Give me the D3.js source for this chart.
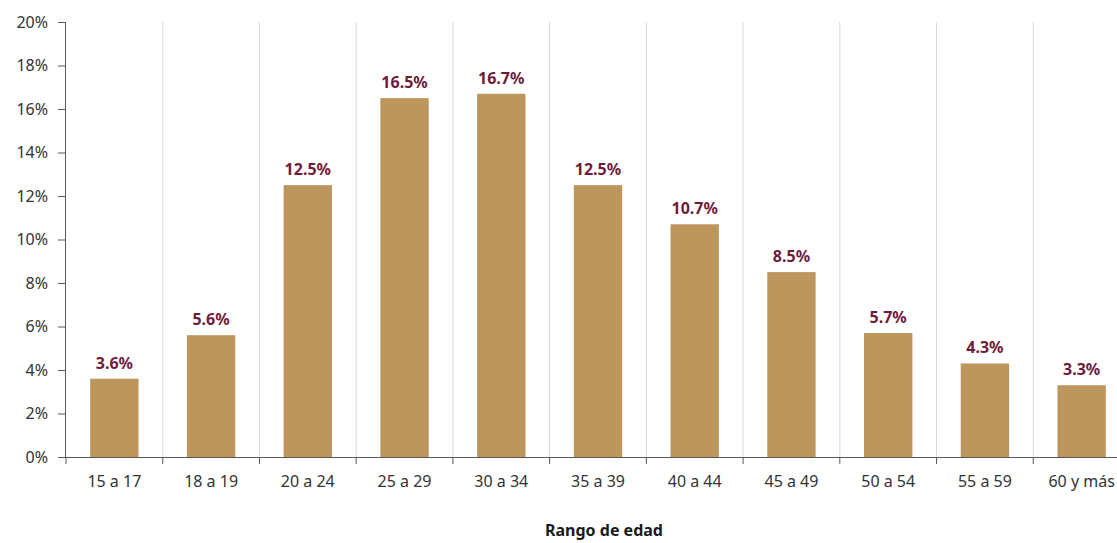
<!DOCTYPE html>
<meta charset="utf-8">
<head>
  <title>Rango de edad</title>
</head>
<style>
  body { margin: 0; background: #fff; }
  text { font-family: "Noto Sans", "Open Sans", sans-serif; }
</style>
<body>
<svg id="chart" width="1117" height="543"></svg>
<script src="https://d3js.org/d3.v7.min.js"></script>
<script>

// data
var categories = ["15 a 17", "18 a 19", "20 a 24", "25 a 29", "30 a 34", "35 a 39", "40 a 44", "45 a 49", "50 a 54", "55 a 59", "60 y más"];
var values = [3.6, 5.6, 12.5, 16.5, 16.7, 12.5, 10.7, 8.5, 5.7, 4.3, 3.3];
var yTicks = [0, 2, 4, 6, 8, 10, 12, 14, 16, 18, 20];

var margin = {top: 22, left: 66},
    width = 1064,
    height = 435;

var svg = d3.select("#chart")
  .append("g")
    .attr("transform", "translate(" + margin.left + "," + margin.top + ")");

var x = d3.scaleBand()
    .domain(categories)
    .range([0, width])
    .paddingInner(0.5)
    .paddingOuter(0.25);

var y = d3.scaleLinear()
    .domain([0, 20])
    .range([height, 0]);

// vertical gridlines between categories
var step = x.step();
svg.selectAll(".grid")
  .data(d3.range(1, categories.length + 1))
  .enter().append("line")
    .attr("x1", function(d) { return d * step; })
    .attr("x2", function(d) { return d * step; })
    .attr("y1", 0)
    .attr("y2", height)
    .style("stroke", "#d9d9d9")
    .style("stroke-width", 1);

// bars
svg.selectAll("rect")
  .data(values)
  .enter().append("rect")
    .attr("x", function(d, i) { return x(categories[i]); })
    .attr("y", function(d) { return y(d); })
    .attr("width", x.bandwidth())
    .attr("height", function(d) { return height - y(d); })
    .style("fill", "#bd965e");

// value labels
svg.selectAll(".lbl")
  .data(values)
  .enter().append("text")
    .attr("x", function(d, i) { return x(categories[i]) + x.bandwidth() / 2; })
    .attr("y", function(d) { return y(d) - 10; })
    .attr("text-anchor", "middle")
    .style("font-size", "16px")
    .style("font-weight", "bold")
    .style("fill", "#6e1c3c")
    .text(function(d) { return d.toFixed(1) + "%"; });

// y axis
var yAxis = svg.append("g")
    .call(d3.axisLeft(y).tickValues(yTicks).tickSize(8).tickPadding(10)
      .tickFormat(function(d) { return d + "%"; }));
yAxis.select(".domain").attr("d", "M-0.5,0V" + height).style("stroke", "#595959");
yAxis.selectAll("line").style("stroke", "#595959");
yAxis.selectAll("text").style("font-size", "16px").style("fill", "#333").style("font-family", "'Noto Sans', sans-serif");

// x axis
var xAxis = svg.append("g")
    .attr("transform", "translate(0," + height + ")")
    .call(d3.axisBottom(x).tickSize(0).tickPadding(19));
xAxis.select(".domain").attr("d", "M0,0.5H" + width).style("stroke", "#595959");
xAxis.selectAll("text").style("font-size", "16px").style("fill", "#333").style("font-family", "'Noto Sans', sans-serif");

svg.append("g").selectAll("line")
  .data(d3.range(0, categories.length + 1))
  .enter().append("line")
    .attr("x1", function(d) { return d * step; })
    .attr("x2", function(d) { return d * step; })
    .attr("y1", height)
    .attr("y2", height + 7)
    .style("stroke", "#595959");

// axis title
svg.append("text")
    .attr("x", 538)
    .attr("y", height + 79)
    .attr("text-anchor", "middle")
    .style("font-size", "16px")
    .style("font-weight", "bold")
    .style("fill", "#1a1a1a")
    .text("Rango de edad");

</script>
</body>
</html>
